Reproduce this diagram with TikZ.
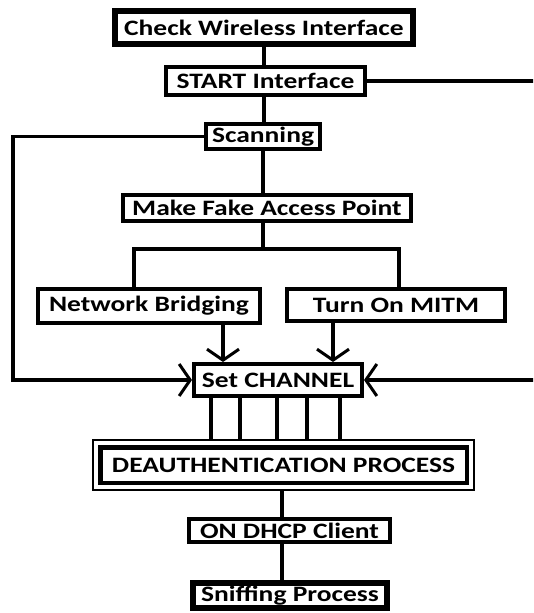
\documentclass[tikz,border=0pt]{standalone}
\usepackage{fontspec}
\setmainfont{Carlito}
\usetikzlibrary{arrows.meta}
\newcommand{\hs}[1]{\scalebox{1.25}[1]{#1}}
\begin{document}
\begin{tikzpicture}[x=1pt,y=-1pt,
  box/.style={draw, line width=4pt, inner sep=0pt, text=black,
    font=\bfseries\fontsize{22}{22}\selectfont},
  conn/.style={line width=3.5pt},
  arr/.style={conn, -{Straight Barb[length=11pt,width=32pt,line width=3pt]}}
]
\useasboundingbox (0,0) rectangle (533,613);
\clip (0,0) rectangle (533,613);
% nodes
\node[box, line width=6pt, minimum width=298pt, minimum height=33pt] (check) at (264,27.5) {\hs{Check Wireless Interface}};
\node[box, minimum width=199pt, minimum height=28pt] (start) at (265.5,81) {\hs{START Interface}};
\node[box, minimum width=114pt, minimum height=25pt] (scan) at (263,136.5) {\hs{Scanning}};
\node[box, minimum width=288pt, minimum height=26pt] (fake) at (267,208) {\hs{Make Fake Access Point}};
\node[box, minimum width=222pt, minimum height=34pt] (nb) at (149,306) {\hs{Network Bridging}};
\node[box, minimum width=218pt, minimum height=32pt] (mitm) at (396,305) {\hs{Turn On MITM}};
\node[box, minimum width=168pt, minimum height=32pt] (chan) at (278,380) {\hs{Set CHANNEL}};
\node[box, line width=2.5pt, minimum width=381pt, minimum height=50pt] (deauth) at (283.5,465) {\hs{DEAUTHENTICATION PROCESS}};
\draw[line width=4.5pt] ([shift={(8.5pt,-8.5pt)}]deauth.north west) rectangle ([shift={(-8.5pt,8.5pt)}]deauth.south east);
\node[box, minimum width=201pt, minimum height=23pt] (dhcp) at (289.5,530.5) {\hs{ON DHCP Client}};
\node[box, line width=6pt, minimum width=194pt, minimum height=25pt] (sniff) at (290,595.5) {\hs{Sniffing Process}};
% helper coordinates
\coordinate (vc) at (264,0);
\coordinate (vd) at (282,0);
\coordinate (rr) at (545,0);
\coordinate (ll) at (13,0);
\coordinate (bj) at (263,249);
\coordinate (bl) at (134,249);
\coordinate (br) at (399,249);
\coordinate (a1) at (223,0);
\coordinate (a2) at (333,0);
% connectors
\draw[conn] (vc |- check.south) -- (vc |- start.north);
\draw[conn] (vc |- start.south) -- (vc |- scan.north);
\draw[conn] (bj |- scan.south) -- (bj |- fake.north);
\draw[arr] (start.east) -- (rr |- start.east) -- (rr |- chan.east) -- (chan.east);
\draw[arr] (scan.west) -- (ll |- scan.west) -- (ll |- chan.west) -- (chan.west);
\draw[conn] (bj |- fake.south) -- (bj);
\draw[conn] (bl |- nb.north) -- (bl) -- (br) -- (br |- mitm.north);
\draw[arr] (a1 |- nb.south) -- (a1 |- chan.north);
\draw[arr] (a2 |- mitm.south) -- (a2 |- chan.north);
\foreach \x in {211,240,277,307,340} {
  \coordinate (tt) at (\x,0);
  \draw[conn] (tt |- chan.south) -- (tt |- deauth.north);
}
\draw[conn] (vd |- deauth.south) -- (vd |- dhcp.north);
\draw[conn] (vd |- dhcp.south) -- (vd |- sniff.north);
\end{tikzpicture}
\end{document}
